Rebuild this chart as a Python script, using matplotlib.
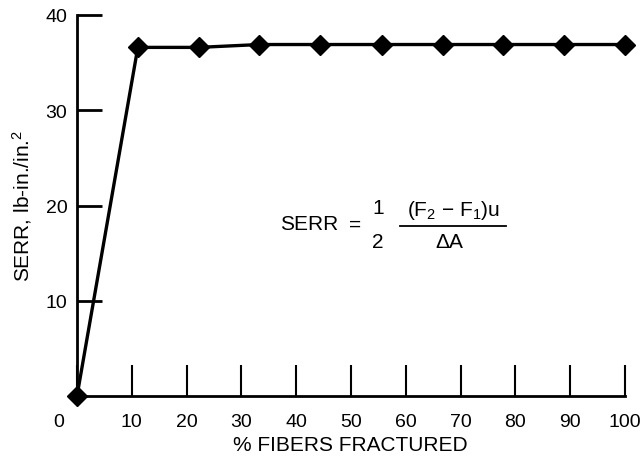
import matplotlib
matplotlib.use("Agg")
import matplotlib.pyplot as plt
from matplotlib.lines import Line2D
from matplotlib.transforms import ScaledTranslation

plt.rcParams['font.family'] = ['Liberation Sans', 'DejaVu Sans']
plt.rcParams['mathtext.fontset'] = 'custom'
plt.rcParams['mathtext.rm'] = 'Liberation Sans'
plt.rcParams['mathtext.it'] = 'Liberation Sans'
plt.rcParams['mathtext.bf'] = 'Liberation Sans:bold'

# Data
fibers_fractured_pct = [0, 11.1, 22.2, 33.3, 44.4, 55.6, 66.7, 77.8, 88.9, 100]
serr_values = [0, 36.6, 36.6, 36.9, 36.9, 36.9, 36.9, 36.9, 36.9, 36.9]
x_ticks = [0, 10, 20, 30, 40, 50, 60, 70, 80, 90, 100]
y_ticks = [10, 20, 30, 40]

W, H = 642, 460
fig = plt.figure(figsize=(W / 100, H / 100), dpi=100)
ax = fig.add_axes([77 / W, 63 / H, (625 - 77) / W, (397 - 16) / H])

ax.plot(fibers_fractured_pct, serr_values, color='black', lw=2.4,
        marker='D', markersize=10, markerfacecolor='black',
        markeredgecolor='black', clip_on=False, zorder=5)

ax.set_xlim(0, 100)
ax.set_ylim(0, 40)
for s in ['top', 'right']:
    ax.spines[s].set_visible(False)
for s in ['left', 'bottom']:
    ax.spines[s].set_linewidth(2)

ax.set_xticks(x_ticks)
ax.set_xticklabels([str(v) for v in x_ticks])
ax.set_yticks(y_ticks)
ax.set_yticklabels([str(v) for v in y_ticks])
ax.tick_params(axis='x', direction='in', length=22, width=1.5, pad=12,
               labelsize=14, colors='black')
ax.tick_params(axis='y', direction='in', length=18, width=2, pad=7,
               labelsize=14, colors='black')

# shift the "0" label left
lbl0 = ax.get_xticklabels()[0]
lbl0.set_transform(lbl0.get_transform() + ScaledTranslation(-18 / 100, 0, fig.dpi_scale_trans))

fig.text(350 / W, 1 - 446 / H, '% FIBERS FRACTURED', ha='center', va='center', fontsize=15)
fig.text(22 / W, 1 - 206 / H, r'SERR, lb-in./in.$^2$', ha='center', va='center',
         rotation=90, fontsize=15)

# Equation
fs = 15
fig.text(280 / W, 1 - 225 / H, 'SERR', ha='left', va='center', fontsize=fs)
fig.text(355 / W, 1 - 225 / H, '=', ha='center', va='center', fontsize=fs)
fig.text(378 / W, 1 - 209 / H, '1', ha='center', va='center', fontsize=fs)
fig.text(378 / W, 1 - 243 / H, '2', ha='center', va='center', fontsize=fs)
fig.text(454 / W, 1 - 211 / H, r'(F$_2$ $-$ F$_1$)u', ha='center', va='center', fontsize=fs)
fig.add_artist(Line2D([400 / W, 506 / W], [1 - 227 / H, 1 - 227 / H], color='black', lw=1.3,
                      transform=fig.transFigure))
fig.text(450 / W, 1 - 243 / H, r'$\Delta$A', ha='center', va='center', fontsize=fs)

fig.savefig('out.png', dpi=100)
